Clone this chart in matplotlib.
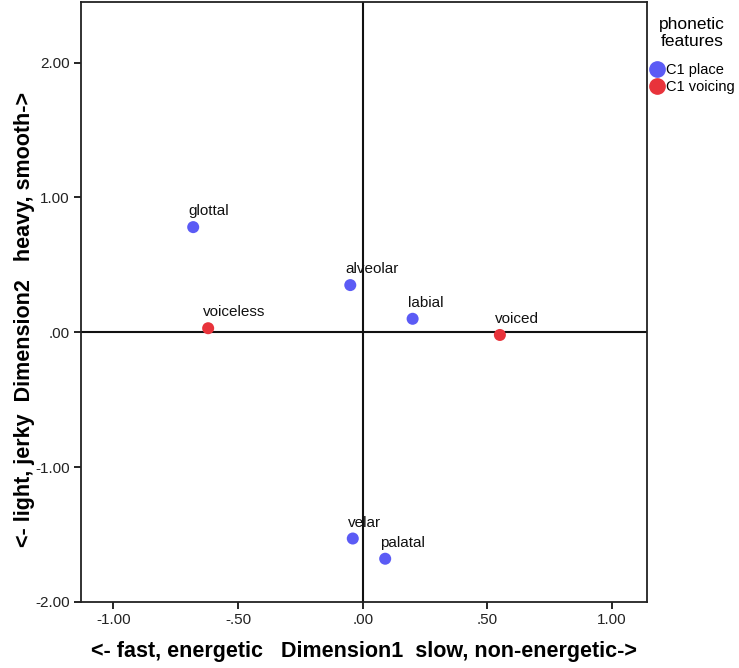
import matplotlib.pyplot as plt
from matplotlib.lines import Line2D

plt.rcParams['font.family'] = ['Liberation Sans', 'DejaVu Sans']

# point coordinates
place_names = ["glottal", "alveolar", "labial", "velar", "palatal"]
place_x = [-0.68, -0.05, 0.20, -0.04, 0.09]
place_y = [0.78, 0.35, 0.10, -1.53, -1.68]

voicing_names = ["voiceless", "voiced"]
voicing_x = [-0.62, 0.55]
voicing_y = [0.03, -0.02]

x_ticks = [-1.0, -0.5, 0.0, 0.5, 1.0]
x_ticklabels = ["-1.00", "-.50", ".00", ".50", "1.00"]
y_ticks = [-2.0, -1.0, 0.0, 1.0, 2.0]
y_ticklabels = ["-2.00", "-1.00", ".00", "1.00", "2.00"]

BLUE = "#5b5bf5"
RED = "#e8333b"


def fmt_ax(ax):
    ax.set_xlim(-1.13, 1.14)
    ax.set_ylim(-2.0, 2.45)
    ax.set_xticks(x_ticks)
    ax.set_xticklabels(x_ticklabels)
    ax.set_yticks(y_ticks)
    ax.set_yticklabels(y_ticklabels)
    ax.tick_params(direction="out", length=5, width=1.2, labelsize=11,
                   colors="black", labelcolor="#222222", pad=3)
    for s in ax.spines.values():
        s.set_linewidth(1.3)
        s.set_color("#222222")


fig = plt.figure(figsize=(7.39, 6.68), dpi=100)
ax = fig.add_axes([0.1096, 0.099, 0.7659, 0.898])
fmt_ax(ax)

ax.axhline(0, color="#111111", lw=1.5, zorder=1)
ax.axvline(0, color="#111111", lw=1.5, zorder=1)

ax.scatter(place_x, place_y, s=75, color=BLUE, edgecolors="none", zorder=3)
ax.scatter(voicing_x, voicing_y, s=75, color=RED, edgecolors="none", zorder=3)

for names, xs, ys in [(place_names, place_x, place_y),
                      (voicing_names, voicing_x, voicing_y)]:
    for n, x, y in zip(names, xs, ys):
        ax.annotate(n, (x, y), xytext=(-5, 9), textcoords="offset pixels",
                    ha="left", va="bottom", fontsize=11, color="#111111",
                    zorder=4)

ax.set_xlabel("<- fast, energetic   Dimension1  slow, non-energetic->",
              fontsize=15.5, fontweight="bold", labelpad=10)
ax.set_ylabel("<- light, jerky  Dimension2   heavy, smooth->",
              fontsize=15.5, fontweight="bold")
ax.yaxis.set_label_coords(-0.082, 0.47)

# legend outside on the right
handles = [Line2D([], [], ls="none", marker="o", markersize=11, color=BLUE),
           Line2D([], [], ls="none", marker="o", markersize=11, color=RED)]
leg = fig.legend(handles, ["C1 place", "C1 voicing"],
                 title="phonetic\nfeatures", loc="upper left",
                 bbox_to_anchor=(0.870, 0.984), frameon=False,
                 fontsize=10.5, title_fontsize=12.5, handletextpad=0.1,
                 handlelength=1.1, borderaxespad=0, labelspacing=0.25)
leg.get_title().set_multialignment("center")
leg._legend_box.sep = 10

fig.savefig("out.png", dpi=100)
